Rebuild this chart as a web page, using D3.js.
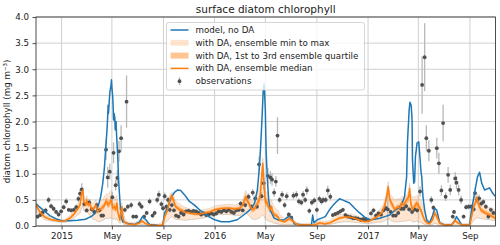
<!DOCTYPE html>
<html><head><meta charset="utf-8">
<script src="https://cdn.jsdelivr.net/npm/d3@7"></script>
<style>body{margin:0;background:#fff}svg{display:block;font-family:"DejaVu Sans",sans-serif}</style>
</head><body><svg id="c" width="500" height="245"></svg>
<script>
const titleText = "surface diatom chlorophyll";
const yLabelText = "diatom chlorophyll (mg m\u207B\u00B3)";
const xTickDates = ["2015-01-01","2015-05-01","2015-09-01","2016-01-01","2016-05-01","2016-09-01","2017-01-01","2017-05-01","2017-09-01"];
const xTickLabels = ["2015","May","Sep","2016","May","Sep","2017","May","Sep"];
const yTicks = [0,0.5,1,1.5,2,2.5,3,3.5,4];
const legendLabels = ["model, no DA","with DA, ensemble min to max","with DA, 1st to 3rd ensemble quartile","with DA, ensemble median","observations"];

// model, no DA: [date, chl]
const modelSeries = [
["2014-11-01",0.42],["2014-11-10",0.36],["2014-11-22",0.28],["2014-12-04",0.20],["2014-12-18",0.14],
["2015-01-01",0.10],["2015-01-20",0.10],["2015-02-08",0.11],["2015-02-27",0.13],["2015-03-14",0.19],
["2015-03-23",0.25],["2015-03-30",0.40],["2015-04-04",0.55],["2015-04-09",0.80],["2015-04-13",1.10],
["2015-04-16",1.45],["2015-04-19",1.80],["2015-04-21",2.09],["2015-04-22",2.31],["2015-04-23",2.16],
["2015-04-26",2.55],["2015-04-29",2.70],["2015-04-30",2.80],["2015-05-01",2.66],["2015-05-03",2.47],
["2015-05-04",2.28],["2015-05-05",2.03],["2015-05-06",2.16],["2015-05-08",2.07],["2015-05-09",1.84],
["2015-05-11",2.00],["2015-05-12",1.78],["2015-05-15",1.32],["2015-05-17",0.88],["2015-05-20",0.50],
["2015-05-23",0.17],["2015-05-27",0.08],["2015-06-08",0.05],["2015-06-24",0.03],["2015-07-06",0.08],
["2015-07-13",0.18],["2015-07-21",0.12],["2015-07-30",0.03],["2015-08-13",0.02],["2015-08-25",0.00],
["2015-08-30",0.01],["2015-09-04",0.25],["2015-09-11",0.35],["2015-09-20",0.56],["2015-09-28",0.65],
["2015-10-05",0.69],["2015-10-12",0.68],["2015-10-21",0.60],["2015-11-02",0.47],["2015-11-14",0.40],
["2015-11-26",0.31],["2015-12-08",0.24],["2015-12-20",0.17],["2016-01-01",0.12],["2016-01-17",0.08],
["2016-02-05",0.08],["2016-02-24",0.12],["2016-03-12",0.22],["2016-03-24",0.30],["2016-04-05",0.43],
["2016-04-12",0.69],["2016-04-17",1.13],["2016-04-21",1.71],["2016-04-24",2.22],["2016-04-26",2.60],
["2016-04-28",2.72],["2016-04-29",2.60],["2016-05-01",2.22],["2016-05-03",1.40],["2016-05-06",0.88],
["2016-05-09",0.50],["2016-05-13",0.30],["2016-05-22",0.15],["2016-06-03",0.11],["2016-06-15",0.12],
["2016-06-25",0.18],["2016-07-02",0.16],["2016-07-09",0.04],["2016-07-21",0.03],["2016-08-04",0.02],
["2016-08-19",0.02],["2016-08-22",0.21],["2016-08-25",0.06],["2016-09-02",0.12],["2016-09-12",0.15],
["2016-09-21",0.18],["2016-10-01",0.31],["2016-10-10",0.40],["2016-10-17",0.46],["2016-10-25",0.52],
["2016-11-01",0.50],["2016-11-18",0.44],["2016-11-30",0.34],["2016-12-12",0.25],["2016-12-24",0.17],
["2017-01-05",0.12],["2017-01-17",0.13],["2017-01-29",0.15],["2017-02-10",0.18],["2017-02-22",0.21],
["2017-03-06",0.30],["2017-03-17",0.36],["2017-03-24",0.45],["2017-03-29",0.56],["2017-04-03",0.94],
["2017-04-05",1.59],["2017-04-09",2.22],["2017-04-11",2.37],["2017-04-14",2.30],["2017-04-16",2.03],
["2017-04-17",1.26],["2017-04-20",0.82],["2017-04-22",0.85],["2017-04-24",1.32],["2017-04-28",1.59],
["2017-05-02",1.61],["2017-05-04",1.40],["2017-05-07",1.07],["2017-05-09",0.94],["2017-05-12",0.56],
["2017-05-16",0.31],["2017-05-21",0.11],["2017-05-28",0.06],["2017-06-04",0.20],["2017-06-09",0.34],
["2017-06-14",0.30],["2017-06-21",0.06],["2017-07-03",0.02],["2017-07-20",0.03],["2017-07-27",0.10],
["2017-07-31",0.18],["2017-08-05",0.12],["2017-08-12",0.02],["2017-08-31",0.02],["2017-09-05",0.31],
["2017-09-12",0.63],["2017-09-19",0.94],["2017-09-24",1.03],["2017-09-29",0.82],["2017-10-06",0.69],
["2017-10-18",0.73],["2017-10-25",0.63],["2017-10-31",0.57]
];

// with DA ensemble: [date, min, q1, median, q3, max]
const daSeries = [
["2014-11-01",0.30,0.36,0.40,0.44,0.48],["2014-11-10",0.20,0.24,0.27,0.30,0.34],["2014-11-22",0.12,0.15,0.17,0.19,0.22],
["2014-12-04",0.10,0.12,0.13,0.15,0.17],["2014-12-16",0.08,0.10,0.11,0.12,0.14],["2014-12-28",0.07,0.08,0.09,0.10,0.12],
["2015-01-09",0.07,0.09,0.10,0.11,0.13],["2015-01-21",0.10,0.13,0.15,0.17,0.20],["2015-02-02",0.17,0.22,0.25,0.28,0.32],
["2015-02-09",0.22,0.30,0.34,0.38,0.44],["2015-02-14",0.25,0.35,0.40,0.45,0.50],["2015-02-18",0.35,0.55,0.63,0.68,0.72],
["2015-02-21",0.38,0.60,0.69,0.72,0.75],["2015-02-23",0.30,0.42,0.47,0.52,0.58],["2015-02-28",0.25,0.36,0.40,0.44,0.50],
["2015-03-02",0.28,0.44,0.50,0.54,0.58],["2015-03-05",0.24,0.35,0.40,0.44,0.50],["2015-03-09",0.22,0.38,0.44,0.48,0.52],
["2015-03-14",0.15,0.27,0.31,0.35,0.42],["2015-03-19",0.12,0.29,0.34,0.38,0.45],["2015-03-24",0.12,0.34,0.40,0.44,0.50],
["2015-03-28",0.08,0.22,0.27,0.31,0.40],["2015-04-02",0.08,0.26,0.31,0.36,0.45],["2015-04-07",0.10,0.28,0.34,0.40,0.50],
["2015-04-12",0.12,0.32,0.38,0.44,0.55],["2015-04-17",0.15,0.40,0.47,0.54,0.60],["2015-04-19",0.15,0.40,0.47,0.54,0.62],
["2015-04-21",0.14,0.34,0.40,0.48,0.60],["2015-04-26",0.15,0.37,0.44,0.50,0.65],["2015-04-29",0.16,0.42,0.50,0.56,0.68],
["2015-05-01",0.15,0.36,0.44,0.50,0.62],["2015-05-03",0.13,0.28,0.34,0.42,0.55],["2015-05-08",0.14,0.30,0.37,0.44,0.55],
["2015-05-10",0.12,0.25,0.31,0.38,0.50],["2015-05-13",0.14,0.36,0.44,0.50,0.58],["2015-05-15",0.10,0.22,0.27,0.33,0.45],
["2015-05-18",0.07,0.14,0.18,0.24,0.35],["2015-05-20",0.05,0.08,0.11,0.16,0.30],["2015-05-22",0.08,0.20,0.27,0.32,0.40],
["2015-05-25",0.10,0.28,0.37,0.42,0.45],["2015-05-27",0.05,0.12,0.18,0.24,0.30],["2015-05-30",0.03,0.06,0.08,0.12,0.20],
["2015-06-03",0.02,0.04,0.06,0.08,0.12],["2015-06-08",0.02,0.03,0.04,0.06,0.08],["2015-06-25",0.01,0.02,0.03,0.04,0.06],
["2015-07-07",0.02,0.04,0.06,0.08,0.12],["2015-07-11",0.03,0.07,0.10,0.12,0.15],["2015-07-19",0.02,0.04,0.05,0.07,0.10],
["2015-07-30",0.00,0.01,0.02,0.03,0.05],["2015-08-19",0.00,0.00,0.01,0.02,0.03],["2015-08-31",0.00,0.01,0.02,0.04,0.08],
["2015-09-04",0.06,0.14,0.18,0.22,0.28],["2015-09-11",0.10,0.26,0.31,0.36,0.42],["2015-09-16",0.15,0.43,0.50,0.55,0.60],
["2015-09-21",0.18,0.50,0.59,0.62,0.65],["2015-09-26",0.15,0.40,0.47,0.52,0.56],["2015-09-30",0.13,0.32,0.37,0.42,0.48],
["2015-10-10",0.12,0.27,0.31,0.36,0.42],["2015-10-22",0.11,0.24,0.27,0.31,0.36],["2015-11-03",0.12,0.22,0.25,0.28,0.33],
["2015-11-15",0.13,0.20,0.23,0.26,0.30],["2015-11-27",0.14,0.20,0.23,0.26,0.30],["2015-12-09",0.16,0.22,0.25,0.28,0.32],
["2015-12-21",0.18,0.24,0.27,0.30,0.34],["2016-01-01",0.20,0.27,0.31,0.34,0.38],["2016-01-13",0.22,0.29,0.33,0.36,0.40],
["2016-01-25",0.22,0.30,0.34,0.37,0.41],["2016-02-06",0.22,0.30,0.34,0.37,0.42],["2016-02-18",0.20,0.28,0.32,0.36,0.40],
["2016-03-01",0.20,0.30,0.34,0.38,0.43],["2016-03-08",0.22,0.35,0.40,0.45,0.50],["2016-03-15",0.28,0.48,0.56,0.62,0.68],
["2016-03-20",0.22,0.40,0.47,0.52,0.60],["2016-03-25",0.18,0.34,0.40,0.46,0.55],["2016-03-30",0.14,0.26,0.31,0.36,0.45],
["2016-04-06",0.12,0.28,0.34,0.40,0.55],["2016-04-13",0.14,0.36,0.44,0.52,0.65],["2016-04-18",0.16,0.45,0.54,0.62,0.75],
["2016-04-20",0.18,0.58,0.69,0.78,0.90],["2016-04-23",0.20,0.85,1.01,1.10,1.15],["2016-04-25",0.22,1.00,1.20,1.25,1.30],
["2016-04-27",0.20,0.74,0.88,1.00,1.10],["2016-04-30",0.15,0.45,0.54,0.65,0.80],["2016-05-02",0.12,0.36,0.44,0.52,0.65],
["2016-05-04",0.12,0.38,0.47,0.55,0.65],["2016-05-07",0.10,0.32,0.40,0.48,0.60],["2016-05-12",0.08,0.25,0.31,0.38,0.50],
["2016-05-16",0.08,0.30,0.37,0.42,0.50],["2016-05-19",0.06,0.20,0.25,0.30,0.40],["2016-05-24",0.05,0.17,0.21,0.26,0.35],
["2016-05-31",0.04,0.14,0.18,0.22,0.30],["2016-06-04",0.03,0.08,0.11,0.14,0.22],["2016-06-16",0.02,0.06,0.08,0.10,0.15],
["2016-06-28",0.03,0.10,0.15,0.18,0.22],["2016-07-05",0.02,0.07,0.10,0.12,0.15],["2016-07-13",0.01,0.03,0.04,0.06,0.08],
["2016-07-22",0.00,0.01,0.02,0.03,0.05],["2016-08-22",0.00,0.01,0.02,0.03,0.05],["2016-08-27",0.00,0.01,0.02,0.04,0.06],
["2016-09-08",0.02,0.04,0.06,0.08,0.10],["2016-09-20",0.02,0.03,0.04,0.06,0.09],["2016-10-02",0.03,0.05,0.06,0.08,0.11],
["2016-10-14",0.05,0.09,0.11,0.13,0.17],["2016-10-25",0.07,0.13,0.15,0.18,0.22],["2016-11-06",0.08,0.15,0.17,0.19,0.23],
["2016-11-18",0.08,0.15,0.17,0.19,0.23],["2016-11-30",0.07,0.13,0.15,0.17,0.21],["2016-12-12",0.06,0.10,0.11,0.13,0.17],
["2016-12-24",0.05,0.07,0.08,0.10,0.14],["2017-01-05",0.05,0.08,0.10,0.12,0.16],["2017-01-17",0.06,0.12,0.15,0.18,0.22],
["2017-01-24",0.07,0.16,0.19,0.23,0.28],["2017-02-03",0.08,0.20,0.25,0.30,0.36],["2017-02-10",0.10,0.33,0.40,0.45,0.50],
["2017-02-14",0.12,0.45,0.55,0.60,0.65],["2017-02-18",0.14,0.60,0.75,0.80,0.85],["2017-02-22",0.12,0.42,0.50,0.56,0.62],
["2017-02-26",0.10,0.36,0.44,0.50,0.58],["2017-03-06",0.08,0.26,0.31,0.36,0.50],["2017-03-13",0.08,0.30,0.37,0.42,0.52],
["2017-03-18",0.08,0.28,0.34,0.40,0.52],["2017-03-22",0.09,0.36,0.44,0.50,0.56],["2017-03-27",0.09,0.33,0.40,0.46,0.56],
["2017-04-03",0.10,0.42,0.50,0.56,0.60],["2017-04-08",0.10,0.46,0.56,0.62,0.66],["2017-04-10",0.12,0.60,0.72,0.78,0.82],
["2017-04-13",0.10,0.36,0.44,0.52,0.62],["2017-04-17",0.08,0.25,0.31,0.38,0.55],["2017-04-22",0.08,0.30,0.37,0.44,0.55],
["2017-04-27",0.09,0.36,0.44,0.50,0.58],["2017-05-02",0.08,0.30,0.37,0.44,0.55],["2017-05-07",0.07,0.25,0.31,0.37,0.50],
["2017-05-11",0.05,0.16,0.21,0.27,0.40],["2017-05-16",0.03,0.08,0.11,0.15,0.25],["2017-05-21",0.02,0.04,0.06,0.09,0.15],
["2017-05-28",0.01,0.03,0.04,0.06,0.10],["2017-06-04",0.03,0.09,0.12,0.15,0.20],["2017-06-09",0.05,0.20,0.25,0.30,0.35],
["2017-06-14",0.04,0.14,0.18,0.22,0.28],["2017-06-21",0.01,0.04,0.05,0.07,0.10],["2017-07-03",0.00,0.01,0.02,0.03,0.05],
["2017-07-20",0.00,0.01,0.02,0.03,0.05],["2017-07-27",0.02,0.08,0.11,0.13,0.16],["2017-08-03",0.01,0.04,0.06,0.08,0.10],
["2017-08-13",0.00,0.01,0.02,0.03,0.05],["2017-09-01",0.00,0.01,0.02,0.03,0.05],["2017-09-05",0.05,0.14,0.18,0.22,0.30],
["2017-09-10",0.10,0.30,0.37,0.42,0.50],["2017-09-15",0.14,0.40,0.47,0.52,0.58],["2017-09-17",0.16,0.45,0.54,0.60,0.65],
["2017-09-22",0.15,0.34,0.40,0.46,0.55],["2017-09-27",0.14,0.26,0.31,0.36,0.48],["2017-10-07",0.13,0.21,0.25,0.30,0.40],
["2017-10-18",0.12,0.18,0.21,0.26,0.35],["2017-10-31",0.10,0.12,0.15,0.20,0.30]
];

// observations: [date, chl, error half-width]
const obsSeries = [
["2014-11-05",0.18,0.04],["2014-11-11",0.21,0.04],["2014-11-17",0.26,0.04],["2014-11-24",0.30,0.05],["2014-12-01",0.50,0.06],
["2014-12-07",0.38,0.05],["2014-12-13",0.33,0.05],["2014-12-19",0.27,0.04],["2014-12-25",0.22,0.04],["2014-12-31",0.28,0.04],
["2015-01-06",0.36,0.05],["2015-01-12",0.47,0.06],["2015-01-18",0.31,0.04],["2015-01-24",0.30,0.04],["2015-01-30",0.31,0.04],
["2015-02-05",0.36,0.05],["2015-02-10",0.52,0.06],["2015-02-14",0.62,0.08],["2015-02-18",0.70,0.12],["2015-02-24",0.42,0.05],
["2015-03-02",0.30,0.04],["2015-03-08",0.45,0.06],["2015-03-14",0.32,0.05],["2015-03-20",0.27,0.04],["2015-03-26",0.40,0.05],
["2015-04-01",0.30,0.04],["2015-04-06",0.20,0.04],["2015-04-10",0.20,0.04],["2015-04-17",1.46,0.20],["2015-04-21",0.93,0.20],
["2015-04-26",1.04,0.15],["2015-05-02",0.55,0.10],["2015-05-05",1.40,0.20],["2015-05-10",0.78,0.10],["2015-05-14",0.92,0.15],
["2015-05-18",1.43,0.20],["2015-05-23",1.68,0.25],["2015-06-01",0.31,0.05],["2015-06-05",2.38,0.50],["2015-06-08",0.37,0.05],
["2015-06-16",0.40,0.06],["2015-06-21",0.18,0.04],["2015-06-28",0.18,0.04],["2015-07-06",0.42,0.06],["2015-07-11",0.37,0.05],
["2015-07-17",0.18,0.04],["2015-07-23",0.25,0.04],["2015-07-30",0.47,0.06],["2015-08-06",0.20,0.04],["2015-08-11",0.25,0.04],
["2015-08-17",0.50,0.06],["2015-08-21",0.60,0.08],["2015-08-27",0.42,0.06],["2015-08-31",0.34,0.05],["2015-09-04",0.57,0.07],
["2015-09-08",0.37,0.05],["2015-09-12",0.50,0.06],["2015-09-16",0.31,0.05],["2015-09-21",0.40,0.05],["2015-09-26",0.30,0.04],
["2015-10-01",0.20,0.04],["2015-10-07",0.18,0.04],["2015-10-13",0.25,0.04],["2015-10-19",0.22,0.04],["2015-10-25",0.28,0.04],
["2015-10-31",0.29,0.04],["2015-11-06",0.27,0.04],["2015-11-12",0.29,0.04],["2015-11-18",0.28,0.04],["2015-11-24",0.25,0.04],
["2015-11-30",0.22,0.04],["2015-12-06",0.24,0.04],["2015-12-12",0.21,0.04],["2015-12-18",0.22,0.04],["2015-12-24",0.24,0.04],
["2015-12-30",0.22,0.04],["2016-01-05",0.24,0.04],["2016-01-11",0.28,0.04],["2016-01-17",0.27,0.04],["2016-01-23",0.30,0.04],
["2016-01-29",0.28,0.04],["2016-02-04",0.31,0.04],["2016-02-10",0.27,0.04],["2016-02-16",0.25,0.04],["2016-02-22",0.30,0.04],
["2016-02-28",0.31,0.04],["2016-03-03",0.43,0.05],["2016-03-08",0.30,0.04],["2016-03-14",0.40,0.05],["2016-03-22",0.56,0.06],
["2016-03-29",0.37,0.05],["2016-04-01",0.64,0.07],["2016-04-07",0.53,0.06],["2016-04-11",0.37,0.05],["2016-04-16",1.18,0.15],
["2016-04-22",0.57,0.08],["2016-04-27",0.82,0.12],["2016-05-07",0.96,0.15],["2016-05-13",0.93,0.12],["2016-05-17",0.89,0.12],
["2016-05-22",0.64,0.08],["2016-05-26",0.85,0.10],["2016-05-30",1.73,0.35],["2016-06-04",0.50,0.06],["2016-06-10",0.60,0.07],
["2016-06-16",0.40,0.06],["2016-06-21",0.57,0.07],["2016-06-26",0.22,0.04],["2016-07-02",0.16,0.04],["2016-07-07",0.58,0.07],
["2016-07-14",0.60,0.07],["2016-07-20",0.47,0.06],["2016-07-26",0.45,0.06],["2016-07-30",0.60,0.07],["2016-08-04",0.50,0.06],
["2016-08-08",0.68,0.08],["2016-08-14",0.29,0.05],["2016-08-20",0.45,0.06],["2016-08-26",0.49,0.06],["2016-09-01",0.31,0.05],
["2016-09-07",0.52,0.06],["2016-09-12",0.47,0.06],["2016-09-16",0.50,0.06],["2016-09-22",0.50,0.06],["2016-09-27",0.68,0.09],
["2016-10-03",0.56,0.07],["2016-10-09",0.21,0.04],["2016-10-15",0.23,0.04],["2016-10-21",0.25,0.04],["2016-10-27",0.28,0.04],
["2016-11-02",0.31,0.04],["2016-11-08",0.21,0.04],["2016-11-14",0.18,0.04],["2016-11-20",0.17,0.04],["2016-11-26",0.15,0.04],
["2016-12-02",0.15,0.04],["2016-12-08",0.14,0.04],["2016-12-14",0.12,0.04],["2016-12-20",0.13,0.04],["2016-12-26",0.13,0.04],
["2017-01-01",0.11,0.04],["2017-01-08",0.24,0.04],["2017-01-14",0.30,0.05],["2017-01-20",0.20,0.04],["2017-01-26",0.24,0.04],
["2017-02-01",0.22,0.04],["2017-02-07",0.30,0.04],["2017-02-13",0.34,0.05],["2017-02-17",0.32,0.30],["2017-02-24",0.27,0.04],
["2017-03-02",0.20,0.04],["2017-03-08",0.20,0.04],["2017-03-14",0.25,0.04],["2017-03-21",0.33,0.05],["2017-03-27",0.33,0.05],
["2017-04-02",0.38,0.05],["2017-04-09",0.32,0.05],["2017-04-16",0.27,0.05],["2017-04-22",0.32,0.05],["2017-04-28",0.30,0.05],
["2017-05-05",0.66,0.10],["2017-05-10",2.70,0.55],["2017-05-16",3.23,0.65],["2017-05-20",1.68,0.25],["2017-05-26",1.44,0.20],
["2017-06-01",0.50,0.07],["2017-06-06",0.35,0.05],["2017-06-14",1.49,0.20],["2017-06-19",1.20,0.20],["2017-06-25",0.68,0.10],
["2017-06-29",1.97,0.35],["2017-07-05",0.56,0.08],["2017-07-11",0.98,0.15],["2017-07-16",0.69,0.10],["2017-07-22",0.18,0.04],
["2017-07-25",0.27,0.04],["2017-07-28",0.91,0.12],["2017-07-31",0.83,0.12],["2017-08-05",0.69,0.10],["2017-08-11",0.50,0.08],
["2017-08-17",0.18,0.04],["2017-08-23",0.36,0.05],["2017-08-29",0.37,0.05],["2017-09-04",0.37,0.05],["2017-09-10",0.32,0.05],
["2017-09-13",0.63,0.10],["2017-09-18",0.50,0.07],["2017-09-23",0.53,0.07],["2017-09-28",0.43,0.06],["2017-10-03",0.46,0.06],
["2017-10-09",0.37,0.05],["2017-10-15",0.18,0.04],["2017-10-21",0.31,0.05],["2017-10-27",0.25,0.04]
];

const parse = d3.timeParse("%Y-%m-%d");
const svg = d3.select("#c");
const L = 36, R = 495.5, T = 17, B = 226;
const x = d3.scaleTime().domain([parse("2014-11-01"), parse("2017-11-01")]).range([L, R]);
const y = d3.scaleLinear().domain([0, 4]).range([B, T]);

const BLUE = "#1f77b4", ORANGE = "#ff7f0e";

svg.append("defs").append("clipPath").attr("id","clip")
  .append("rect").attr("x",L).attr("y",T).attr("width",R-L).attr("height",B-T);

// grid
const grid = svg.append("g");
grid.selectAll("line.gx").data(xTickDates).join("line")
  .attr("x1",d=>x(parse(d))).attr("x2",d=>x(parse(d))).attr("y1",T).attr("y2",B)
  .attr("stroke","#d0d0d0").attr("stroke-width",1);
grid.selectAll("line.gy").data(yTicks).join("line")
  .attr("y1",d=>y(d)).attr("y2",d=>y(d)).attr("x1",L).attr("x2",R)
  .attr("stroke","#d0d0d0").attr("stroke-width",1);

const plot = svg.append("g").attr("clip-path","url(#clip)");
const da = daSeries.map(r=>({t:parse(r[0]),mn:r[1],q1:r[2],md:r[3],q3:r[4],mx:r[5]}));

const areaMM = d3.area().x(d=>x(d.t)).y0(d=>y(d.mn)).y1(d=>y(d.mx));
const areaQ = d3.area().x(d=>x(d.t)).y0(d=>y(d.q1)).y1(d=>y(d.q3));
plot.append("path").datum(da).attr("d",areaMM).attr("fill",ORANGE).attr("fill-opacity",0.2);
plot.append("path").attr("d",d3.line().x(d=>x(d.t)).y(d=>y(d.mn))(da))
  .attr("fill","none").attr("stroke","#b8a898").attr("stroke-width",0.6).attr("stroke-opacity",0.8);
plot.append("path").attr("d",d3.line().x(d=>x(d.t)).y(d=>y(d.mx))(da))
  .attr("fill","none").attr("stroke","#c8b4a0").attr("stroke-width",0.6).attr("stroke-opacity",0.6);
plot.append("path").datum(da).attr("d",areaQ).attr("fill",ORANGE).attr("fill-opacity",0.45);

// observations
const obs = obsSeries.map(r=>({t:parse(r[0]),v:r[1],e:r[2]}));
plot.selectAll("line.eb").data(obs).join("line")
  .attr("x1",d=>x(d.t)).attr("x2",d=>x(d.t))
  .attr("y1",d=>y(d.v-d.e)).attr("y2",d=>y(d.v+d.e))
  .attr("stroke","#b8b8b8").attr("stroke-width",1.3);
plot.selectAll("circle.ob").data(obs).join("circle")
  .attr("cx",d=>x(d.t)).attr("cy",d=>y(d.v)).attr("r",1.9).attr("fill","#505050");

// lines
plot.append("path").attr("d",d3.line().x(d=>x(parse(d[0]))).y(d=>y(d[1]))(modelSeries))
  .attr("fill","none").attr("stroke",BLUE).attr("stroke-width",1.5).attr("stroke-linejoin","round");
plot.append("path").attr("d",d3.line().x(d=>x(d.t)).y(d=>y(d.md))(da))
  .attr("fill","none").attr("stroke",ORANGE).attr("stroke-width",1.5).attr("stroke-linejoin","round");

// axes
const xAxis = d3.axisBottom(x).tickValues(xTickDates.map(parse)).tickFormat((d,i)=>xTickLabels[i]).tickSize(3.5).tickPadding(3.5);
const yAxis = d3.axisLeft(y).tickValues(yTicks).tickFormat(d3.format(".1f")).tickSize(3.5).tickPadding(3.5);
const gx = svg.append("g").attr("transform",`translate(0,${B})`).call(xAxis);
const gy = svg.append("g").attr("transform",`translate(${L},0)`).call(yAxis);
[gx,gy].forEach(g=>{
  g.select(".domain").remove();
  g.selectAll(".tick line").attr("stroke","#222").attr("stroke-width",0.8);
  g.selectAll(".tick text").attr("fill","#222").style("font-size","8.7px").style("font-family","DejaVu Sans");
});
svg.append("rect").attr("x",L).attr("y",T).attr("width",R-L).attr("height",B-T)
  .attr("fill","none").attr("stroke","#222").attr("stroke-width",0.8);

svg.append("text").attr("x",(L+R)/2).attr("y",12.5).attr("text-anchor","middle")
  .style("font-size","10.5px").attr("fill","#222").text(titleText);
svg.append("text").attr("transform",`translate(10,${(T+B)/2}) rotate(-90)`).attr("text-anchor","middle")
  .style("font-size","8.7px").attr("fill","#222").text(yLabelText);

// legend
const lg = svg.append("g");
lg.append("rect").attr("x",166.5).attr("y",22.5).attr("width",198).attr("height",67.5).attr("rx",2)
  .attr("fill","#fff").attr("fill-opacity",0.8).attr("stroke","#cccccc").attr("stroke-width",0.8);
const rowY = d3.range(legendLabels.length).map(i=>30+i*12.8);
const sx0 = 170.5, sx1 = 188.5;
lg.append("line").attr("x1",sx0).attr("x2",sx1).attr("y1",rowY[0]).attr("y2",rowY[0]).attr("stroke",BLUE).attr("stroke-width",1.5);
lg.append("rect").attr("x",sx0).attr("y",rowY[1]-3).attr("width",sx1-sx0).attr("height",6).attr("fill",ORANGE).attr("fill-opacity",0.2);
lg.append("rect").attr("x",sx0).attr("y",rowY[2]-3).attr("width",sx1-sx0).attr("height",6).attr("fill",ORANGE).attr("fill-opacity",0.45);
lg.append("line").attr("x1",sx0).attr("x2",sx1).attr("y1",rowY[3]).attr("y2",rowY[3]).attr("stroke",ORANGE).attr("stroke-width",1.5);
lg.append("line").attr("x1",(sx0+sx1)/2).attr("x2",(sx0+sx1)/2).attr("y1",rowY[4]-4).attr("y2",rowY[4]+4).attr("stroke","#b8b8b8").attr("stroke-width",1.3);
lg.append("circle").attr("cx",(sx0+sx1)/2).attr("cy",rowY[4]).attr("r",1.9).attr("fill","#505050");
lg.selectAll("text.lt").data(legendLabels).join("text")
  .attr("x",195.5).attr("y",(d,i)=>rowY[i]).attr("dy","0.35em")
  .style("font-size","8.7px").attr("fill","#222").text(d=>d);
</script></body></html>
